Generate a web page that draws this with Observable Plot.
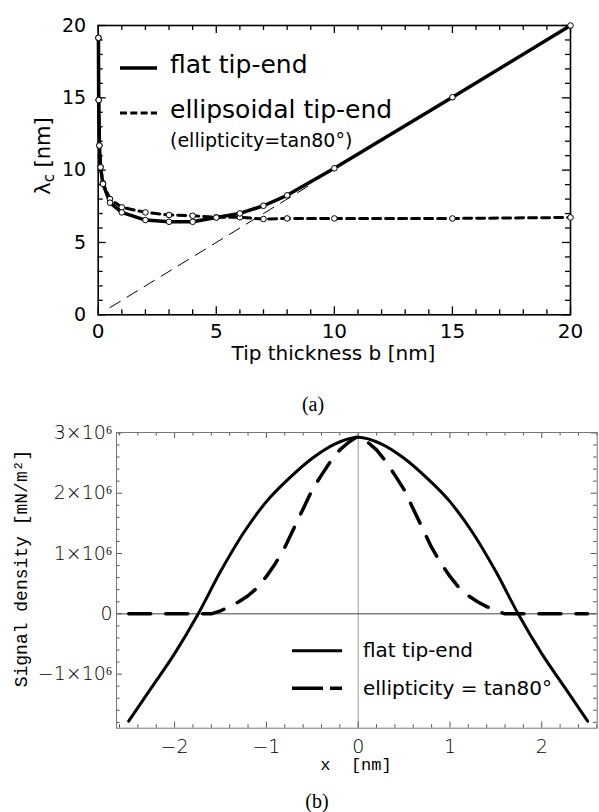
<!DOCTYPE html>
<html>
<head>
<meta charset="utf-8">
<script src="https://cdn.jsdelivr.net/npm/d3@7"></script>
<script src="https://cdn.jsdelivr.net/npm/@observablehq/plot@0.6"></script>
<style>
  html, body { margin: 0; padding: 0; background: #fff; overflow: hidden; }
  svg { display: block; }
</style>
</head>
<body>
<div id="chart"></div>
<script>
// ---------- Panel (a) data ----------
const tipB        = [0.01, 0.02, 0.05, 0.1, 0.2, 0.5, 1, 2, 3, 4, 5, 6, 7, 8, 10, 15, 20];
const flatLambda  = [19.15, 14.85, 11.7, 10.2, 9.05, 7.75, 7.08, 6.55, 6.43, 6.43, 6.72, 7.01, 7.54, 8.26, 10.13, 15.04, 20.0];
const ellipLambda = [19.15, 14.85, 11.7, 10.2, 9.1, 8.0, 7.43, 7.08, 6.9, 6.85, 6.74, 6.74, 6.62, 6.66, 6.66, 6.66, 6.73];
const asymB       = [0.5, 9];
const asymLambda  = [0.5, 9];
const aTicksMajor = [0, 5, 10, 15, 20];
const aTicksMinor = [1,2,3,4,6,7,8,9,11,12,13,14,16,17,18,19];

// ---------- Panel (b) data (signal density in units of 10^6 mN/m^2) ----------
const flatX = [-2.5, -2.25, -2, -1.75, -1.5, -1.25, -1, -0.75, -0.5, -0.25, 0, 0.25, 0.5, 0.75, 1, 1.25, 1.5, 1.75, 2, 2.25, 2.5];
const flatS = [-1.78, -1.22, -0.66, -0.02, 0.7, 1.34, 1.86, 2.25, 2.58, 2.82, 2.93, 2.82, 2.58, 2.25, 1.86, 1.34, 0.7, -0.02, -0.66, -1.22, -1.78];
const ellX  = [-2.5, -1.6, -1.5, -1.4, -1.3, -1.2, -1.1, -1.0, -0.9, -0.8, -0.7, -0.6, -0.5, -0.4, -0.3, -0.2, -0.1, 0,
               0.1, 0.2, 0.3, 0.4, 0.5, 0.6, 0.7, 0.8, 0.9, 1.0, 1.1, 1.2, 1.3, 1.4, 1.5, 1.6, 2.5];
const ellS  = [0, 0, 0.05, 0.12, 0.2, 0.3, 0.43, 0.62, 0.84, 1.1, 1.42, 1.74, 2.06, 2.3, 2.53, 2.72, 2.85, 2.95,
               2.85, 2.72, 2.53, 2.3, 2.06, 1.74, 1.42, 1.1, 0.84, 0.62, 0.43, 0.3, 0.2, 0.12, 0.05, 0, 0];
const bXMajor = [-2, -1, 0, 1, 2];
const bXMinor = [-2.6,-2.4,-2.2,-1.8,-1.6,-1.4,-1.2,-0.8,-0.6,-0.4,-0.2,0.2,0.4,0.6,0.8,1.2,1.4,1.6,1.8,2.2,2.4,2.6];
const bYMajor = [-1, 0, 1, 2, 3];
const bYMinor = [-1.8,-1.6,-1.4,-1.2,-0.8,-0.6,-0.4,-0.2,0.2,0.4,0.6,0.8,1.2,1.4,1.6,1.8,2.2,2.4,2.6,2.8];

const flatData  = tipB.map((b, i) => ({b, v: flatLambda[i]}));
const ellipData = tipB.map((b, i) => ({b, v: ellipLambda[i]}));
const asymData  = asymB.map((b, i) => ({b, v: asymLambda[i]}));
const flatSig   = flatX.map((x, i) => ({x, s: flatS[i]}));
const ellSig    = ellX.map((x, i) => ({x, s: ellS[i]}));

// ---------- Panel (a) ----------
const A = {w: 599, h: 420, mt: 25, mb: 105.7, ml: 97.7, mr: 29};
const aFH = A.h - A.mt - A.mb, aFW = A.w - A.ml - A.mr;
const id = d => d;

const plotA = Plot.plot({
  width: A.w, height: A.h,
  marginTop: A.mt, marginBottom: A.mb, marginLeft: A.ml, marginRight: A.mr,
  x: {domain: [0, 20]},
  y: {domain: [0, 20]},
  style: {fontFamily: "DejaVu Sans", background: "white", color: "black", overflow: "visible"},
  marks: [
    Plot.tickX(aTicksMajor, {x: id, insetTop: aFH - 8, stroke: "black", strokeWidth: 1.3}),
    Plot.tickX(aTicksMinor, {x: id, insetTop: aFH - 5, stroke: "black", strokeWidth: 1.3}),
    Plot.tickX(aTicksMajor, {x: id, insetBottom: aFH - 8, stroke: "black", strokeWidth: 1.3}),
    Plot.tickX(aTicksMinor, {x: id, insetBottom: aFH - 5, stroke: "black", strokeWidth: 1.3}),
    Plot.tickY(aTicksMajor, {y: id, insetRight: aFW - 8, stroke: "black", strokeWidth: 1.3}),
    Plot.tickY(aTicksMinor, {y: id, insetRight: aFW - 5, stroke: "black", strokeWidth: 1.3}),
    Plot.tickY(aTicksMajor, {y: id, insetLeft: aFW - 8, stroke: "black", strokeWidth: 1.3}),
    Plot.tickY(aTicksMinor, {y: id, insetLeft: aFW - 5, stroke: "black", strokeWidth: 1.3}),
    Plot.frame({stroke: "black", strokeWidth: 1.6}),
    Plot.line(asymData, {x: "b", y: "v", stroke: "black", strokeWidth: 1, strokeDasharray: "12,8"}),
    Plot.line(ellipData, {x: "b", y: "v", stroke: "black", strokeWidth: 3, strokeDasharray: "8,5"}),
    Plot.line(flatData, {x: "b", y: "v", stroke: "black", strokeWidth: 3.5}),
    Plot.dot(ellipData, {x: "b", y: "v", r: 2.8, fill: "white", stroke: "black", strokeWidth: 1}),
    Plot.dot(flatData, {x: "b", y: "v", r: 2.8, fill: "white", stroke: "black", strokeWidth: 1}),
    Plot.axisX(aTicksMajor, {tickSize: 0, tickPadding: 9, fontSize: 20, label: null, tickFormat: d => String(d)}),
    Plot.axisY(aTicksMajor, {tickSize: 0, tickPadding: 12, fontSize: 19, label: null, tickFormat: d => String(d)})
  ]
});

// ---------- Panel (b) ----------
const B = {w: 599, h: 392, mt: 12, mb: 84.3, ml: 116, mr: 2.3};
const bFH = B.h - B.mt - B.mb, bFW = B.w - B.ml - B.mr;
const fmtSig = d => d === 0 ? "0" : (d < 0 ? "\u2212" : "") + Math.abs(d) + "\u00d710\u2076";

const plotB = Plot.plot({
  width: B.w, height: B.h,
  marginTop: B.mt, marginBottom: B.mb, marginLeft: B.ml, marginRight: B.mr,
  x: {domain: [-2.633, 2.604]},
  y: {domain: [-1.897, 3.007]},
  style: {fontFamily: "DejaVu Sans", background: "white", color: "black", overflow: "visible"},
  marks: [
    Plot.ruleX([0], {stroke: "#999", strokeWidth: 1}),
    Plot.ruleY([0], {stroke: "#444", strokeWidth: 1}),
    Plot.tickX(bXMajor, {x: id, insetTop: bFH - 6, stroke: "#555"}),
    Plot.tickX(bXMinor, {x: id, insetTop: bFH - 3.5, stroke: "#555"}),
    Plot.tickX(bXMajor, {x: id, insetBottom: bFH - 6, stroke: "#555"}),
    Plot.tickX(bXMinor, {x: id, insetBottom: bFH - 3.5, stroke: "#555"}),
    Plot.tickY(bYMajor, {y: id, insetRight: bFW - 6, stroke: "#555"}),
    Plot.tickY(bYMinor, {y: id, insetRight: bFW - 3.5, stroke: "#555"}),
    Plot.tickY(bYMajor, {y: id, insetLeft: bFW - 6, stroke: "#555"}),
    Plot.tickY(bYMinor, {y: id, insetLeft: bFW - 3.5, stroke: "#555"}),
    Plot.frame({stroke: "#777", strokeWidth: 1}),
    Plot.line(flatSig, {x: "x", y: "s", stroke: "black", strokeWidth: 3, curve: "monotone-x"}),
    Plot.line(ellSig, {x: "x", y: "s", stroke: "black", strokeWidth: 3.5, strokeDasharray: "22,15"}),
    Plot.axisX(bXMajor, {tickSize: 0, tickPadding: 11, fontSize: 19, fontWeight: 300, label: null,
      tickFormat: d => d < 0 ? "\u2212" + Math.abs(d) : String(d)}),
    Plot.axisY(bYMajor, {tickSize: 0, tickPadding: 4, fontSize: 19, fontWeight: 300, label: null, tickFormat: fmtSig})
  ]
});

// ---------- Annotations (titles, legends, captions) ----------
function txt(sel, x, y, s, size, family, anchor) {
  return sel.append("text").attr("x", x).attr("y", y)
    .attr("text-anchor", anchor || "start")
    .attr("font-family", family || "DejaVu Sans")
    .attr("font-size", size).attr("fill", "black").text(s);
}
const sa = d3.select(plotA);
const yt = sa.append("text")
  .attr("transform", "translate(50,156) rotate(-90)")
  .attr("text-anchor", "middle")
  .attr("font-family", "DejaVu Sans").attr("font-size", 21).attr("fill", "black");
yt.append("tspan").text("\u03bb");
yt.append("tspan").attr("font-size", 15).attr("dy", 4).text("c");
yt.append("tspan").attr("dy", -4).text(" [nm]");
txt(sa, 333.5, 360, "Tip thickness b [nm]", 20, "DejaVu Sans", "middle");
txt(sa, 313, 411, "(a)", 20, "Liberation Serif", "middle");
sa.append("line").attr("x1", 120).attr("x2", 157).attr("y1", 68).attr("y2", 68)
  .attr("stroke", "black").attr("stroke-width", 3.5);
txt(sa, 170, 73, "flat tip-end", 25);
sa.append("line").attr("x1", 120).attr("x2", 157).attr("y1", 113).attr("y2", 113)
  .attr("stroke", "black").attr("stroke-width", 3).attr("stroke-dasharray", "7,3.3");
txt(sa, 170, 118, "ellipsoidal tip-end", 25);
txt(sa, 170, 147, "(ellipticity=tan80\u00b0)", 19);

const sb = d3.select(plotB);
sb.append("text").attr("transform", "translate(27,148.5) rotate(-90)").attr("text-anchor", "middle")
  .attr("font-family", "Liberation Mono").attr("font-size", 18).attr("fill", "black")
  .text("Signal density [mN/m\u00b2]");
txt(sb, 356, 350, "x\u00a0\u00a0[nm]", 17, "Liberation Mono", "middle");
txt(sb, 317, 388, "(b)", 20, "Liberation Serif", "middle");
sb.append("line").attr("x1", 292).attr("x2", 342).attr("y1", 230.7).attr("y2", 230.7)
  .attr("stroke", "black").attr("stroke-width", 3);
txt(sb, 363, 237, "flat tip-end", 20);
sb.append("line").attr("x1", 292).attr("x2", 342).attr("y1", 268.3).attr("y2", 268.3)
  .attr("stroke", "black").attr("stroke-width", 3.5).attr("stroke-dasharray", "31,7,12");
txt(sb, 363, 275, "ellipticity = tan80\u00b0", 20);

document.getElementById("chart").append(plotA, plotB);
</script>
</body>
</html>
